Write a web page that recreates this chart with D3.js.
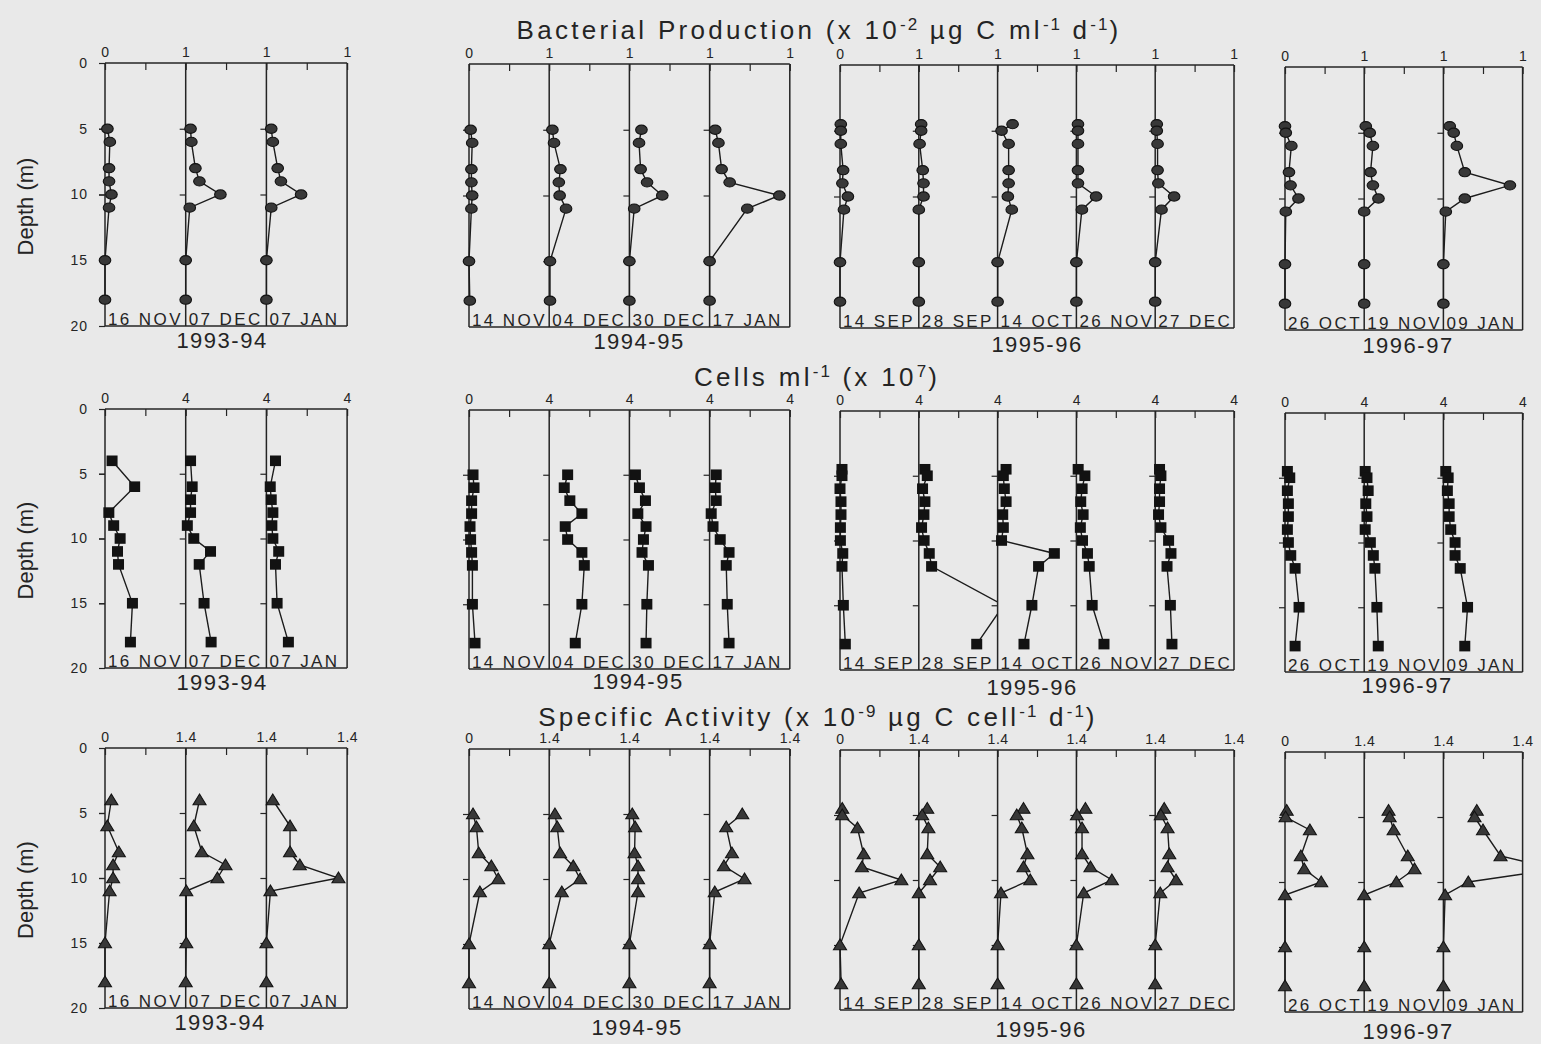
<!DOCTYPE html>
<html><head><meta charset="utf-8">
<script src="https://cdn.jsdelivr.net/npm/d3@7"></script>
<style>
html,body{margin:0;padding:0;background:#e9e9e9;}
svg{display:block;font-family:"Liberation Sans",Arial,Helvetica,sans-serif;}
</style></head><body>
<svg id="chart" width="1541" height="1044"></svg>
<script>
// ---------------- DATA ----------------
const years = ["1993-94", "1994-95", "1995-96", "1996-97"];
const depthTicks = [0, 5, 10, 15, 20];

const dates9394 = ["16 NOV", "07 DEC", "07 JAN"];
const dates9495 = ["14 NOV", "04 DEC", "30 DEC", "17 JAN"];
const dates9596 = ["14 SEP", "28 SEP", "14 OCT", "26 NOV", "27 DEC"];
const dates9697 = ["26 OCT", "19 NOV", "09 JAN"];

// Bacterial production (x 10^-2 ug C ml-1 d-1), axis max 1
const bpDepth9394 = [5, 6, 8, 9, 10, 11, 15, 18];
const bp9394 = [
  [0.03, 0.06, 0.05, 0.05, 0.08, 0.05, 0.00, 0.00],
  [0.06, 0.07, 0.12, 0.17, 0.43, 0.05, 0.00, 0.00],
  [0.06, 0.08, 0.14, 0.18, 0.43, 0.06, 0.00, 0.00]
];
const bpDepth9495 = [5, 6, 8, 9, 10, 11, 15, 18];
const bp9495 = [
  [0.02, 0.04, 0.03, 0.03, 0.04, 0.03, 0.00, 0.01],
  [0.04, 0.06, 0.14, 0.12, 0.13, 0.21, 0.01, 0.01],
  [0.15, 0.12, 0.14, 0.22, 0.41, 0.06, 0.00, 0.00],
  [0.07, 0.11, 0.15, 0.25, 0.87, 0.47, 0.00, 0.00]
];
const bpDepth9596 = [4.5, 5, 6, 8, 9, 10, 11, 15, 18];
const bp9596 = [
  [0.01, 0.01, 0.01, 0.04, 0.03, 0.10, 0.05, 0.00, 0.00],
  [0.03, 0.03, 0.01, 0.05, 0.06, 0.06, 0.00, 0.00, 0.00],
  [0.19, 0.05, 0.14, 0.14, 0.14, 0.13, 0.18, 0.00, 0.00],
  [0.02, 0.02, 0.02, 0.02, 0.02, 0.25, 0.07, 0.00, 0.00],
  [0.02, 0.02, 0.03, 0.03, 0.04, 0.24, 0.08, 0.00, 0.00]
];
const bpDepth9697 = [4.5, 5, 6, 8, 9, 10, 11, 15, 18];
const bp9697 = [
  [0.00, 0.01, 0.08, 0.05, 0.07, 0.17, 0.01, 0.00, 0.00],
  [0.02, 0.07, 0.11, 0.08, 0.11, 0.18, 0.00, 0.00, 0.00],
  [0.08, 0.13, 0.17, 0.27, 0.84, 0.27, 0.03, 0.00, 0.00]
];

// Cells ml-1 (x 10^7), axis max 4
const cellDepth9394 = [4, 6, 7, 8, 9, 10, 11, 12, 15, 18];
const cell9394 = [
  [0.35, 1.47, null, 0.19, 0.43, 0.75, 0.62, 0.67, 1.36, 1.26],
  [0.24, 0.32, 0.24, 0.24, 0.08, 0.40, 1.23, 0.67, 0.91, 1.26],
  [0.45, 0.19, 0.24, 0.32, 0.27, 0.32, 0.61, 0.45, 0.53, 1.09]
];
const cellDepth9495 = [5, 6, 7, 8, 9, 10, 11, 12, 15, 18];
const cell9495 = [
  [0.20, 0.25, 0.13, 0.13, 0.05, 0.08, 0.13, 0.17, 0.17, 0.30],
  [0.92, 0.75, 1.03, 1.63, 0.80, 0.92, 1.63, 1.75, 1.63, 1.30],
  [0.30, 0.50, 0.80, 0.42, 0.83, 0.70, 0.63, 0.95, 0.87, 0.83],
  [0.33, 0.28, 0.33, 0.08, 0.17, 0.53, 0.97, 0.83, 0.88, 0.97]
];
const cellDepth9596 = [4.5, 5, 6, 7, 8, 9, 10, 11, 12, 15, 18];
const cell9596 = [
  [0.10, 0.10, 0.00, 0.05, 0.05, 0.02, 0.02, 0.14, 0.10, 0.17, 0.27],
  [0.31, 0.43, 0.19, 0.31, 0.26, 0.14, 0.27, 0.53, 0.65, 4.30, 2.94],
  [0.43, 0.29, 0.34, 0.43, 0.26, 0.29, 0.20, 2.88, 2.08, 1.74, 1.34],
  [0.09, 0.43, 0.29, 0.22, 0.34, 0.20, 0.31, 0.56, 0.65, 0.80, 1.40],
  [0.22, 0.29, 0.22, 0.22, 0.17, 0.29, 0.68, 0.80, 0.60, 0.77, 0.85]
];
const cellDepth9697 = [4.5, 5, 6, 7, 8, 9, 10, 11, 12, 15, 18];
const cell9697 = [
  [0.12, 0.24, 0.12, 0.17, 0.17, 0.12, 0.17, 0.29, 0.51, 0.71, 0.51],
  [0.05, 0.14, 0.20, 0.08, 0.14, 0.05, 0.31, 0.46, 0.54, 0.64, 0.71],
  [0.12, 0.24, 0.20, 0.29, 0.29, 0.37, 0.59, 0.59, 0.85, 1.22, 1.08]
];

// Specific activity (x 10^-9 ug C cell-1 d-1), axis max 1.4
const saDepth9394 = [4, 6, 8, 9, 10, 11, 15, 18];
const sa9394 = [
  [0.11, 0.04, 0.24, 0.14, 0.14, 0.08, 0.00, 0.00],
  [0.24, 0.14, 0.28, 0.69, 0.55, 0.01, 0.01, 0.00],
  [0.11, 0.41, 0.41, 0.58, 1.25, 0.07, 0.00, 0.00]
];
const saDepth9495 = [5, 6, 8, 9, 10, 11, 15, 18];
const sa9495 = [
  [0.07, 0.13, 0.17, 0.39, 0.51, 0.19, 0.00, 0.00],
  [0.10, 0.14, 0.19, 0.42, 0.54, 0.22, 0.00, 0.00],
  [0.05, 0.10, 0.09, 0.15, 0.15, 0.15, 0.00, 0.00],
  [0.57, 0.29, 0.39, 0.25, 0.61, 0.09, 0.00, 0.00]
];
const saDepth9596 = [4.5, 5, 6, 8, 9, 10, 11, 15, 18];
const sa9596 = [
  [0.04, 0.04, 0.31, 0.42, 0.39, 1.09, 0.34, 0.00, 0.02],
  [0.15, 0.06, 0.17, 0.15, 0.38, 0.20, 0.00, 0.00, 0.00],
  [0.46, 0.34, 0.43, 0.53, 0.46, 0.58, 0.06, 0.00, 0.00],
  [0.16, 0.01, 0.10, 0.10, 0.25, 0.63, 0.13, 0.00, 0.00],
  [0.16, 0.10, 0.22, 0.25, 0.22, 0.37, 0.09, 0.00, 0.00]
];
const saDepth9697 = [4.5, 5, 6, 8, 9, 10, 11, 15, 18];
const sa9697 = [
  [0.03, 0.01, 0.44, 0.28, 0.34, 0.64, 0.00, 0.00, 0.00],
  [0.43, 0.45, 0.52, 0.77, 0.89, 0.57, 0.00, 0.00, 0.00],
  [0.59, 0.55, 0.70, 1.01, 2.00, 0.44, 0.03, 0.00, 0.00]
];

const xMax = [1, 4, 1.4];
const xMaxLabels = ["1", "4", "1.4"];
const markerTypes = ["circle", "square", "triangle"];

// ---------------- LAYOUT ----------------
const W = 1541, H = 1044;
const ink = "#242424";
const groupLeft = [105, 469, 840, 1285];
const panelW = [80.7, 80.2, 78.8, 79.2];
const groupDy = [0, 1, 2, 4];
const rowTop = [63, 409, 748];
const rowH = [263, 259, 260];
const yearX = [[222, 639, 1037, 1408], [222, 638, 1032, 1407], [220, 637, 1041, 1408]];
const yearY = [[348, 349, 352, 353], [690, 689, 695, 693], [1030, 1035, 1037, 1039]];

const rows = [
  [
    {depth: bpDepth9394, vals: bp9394, dates: dates9394},
    {depth: bpDepth9495, vals: bp9495, dates: dates9495},
    {depth: bpDepth9596, vals: bp9596, dates: dates9596},
    {depth: bpDepth9697, vals: bp9697, dates: dates9697}
  ],
  [
    {depth: cellDepth9394, vals: cell9394, dates: dates9394},
    {depth: cellDepth9495, vals: cell9495, dates: dates9495},
    {depth: cellDepth9596, vals: cell9596, dates: dates9596},
    {depth: cellDepth9697, vals: cell9697, dates: dates9697}
  ],
  [
    {depth: saDepth9394, vals: sa9394, dates: dates9394},
    {depth: saDepth9495, vals: sa9495, dates: dates9495},
    {depth: saDepth9596, vals: sa9596, dates: dates9596},
    {depth: saDepth9697, vals: sa9697, dates: dates9697}
  ]
];

const svg = d3.select("#chart");
svg.append("rect").attr("width", W).attr("height", H).attr("fill", "#e9e9e9");
const defs = svg.append("defs");

// ---------------- TITLES ----------------
function title(x, y, parts) {
  const t = svg.append("text").attr("x", x).attr("y", y)
    .attr("text-anchor", "middle").attr("fill", ink)
    .style("font-size", "26px").style("letter-spacing", "3.3px");
  let shift = 0;
  parts.forEach(p => {
    const target = p.sup ? -9 : 0;
    const ts = t.append("tspan").attr("dy", target - shift).text(p.t);
    if (p.sup) ts.style("font-size", "17px").style("letter-spacing", "2px");
    shift = target;
  });
}
title(819, 39, [{t: "Bacterial Production (x 10"}, {t: "-2", sup: 1}, {t: " \u00B5g C ml"}, {t: "-1", sup: 1}, {t: " d"}, {t: "-1", sup: 1}, {t: ")"}]);
title(817, 386, [{t: "Cells ml"}, {t: "-1", sup: 1}, {t: " (x 10"}, {t: "7", sup: 1}, {t: ")"}]);
title(818, 726, [{t: "Specific Activity (x 10"}, {t: "-9", sup: 1}, {t: " \u00B5g C cell"}, {t: "-1", sup: 1}, {t: " d"}, {t: "-1", sup: 1}, {t: ")"}]);

// ---------------- MARKERS ----------------
function drawMarker(g, type, x, y) {
  if (type === "circle") {
    g.append("ellipse").attr("cx", x).attr("cy", y).attr("rx", 5.8).attr("ry", 4.6)
      .attr("fill", "#383838").attr("stroke", "#121212").attr("stroke-width", 1.1);
  } else if (type === "square") {
    g.append("rect").attr("x", x - 5.5).attr("y", y - 5.3).attr("width", 11).attr("height", 10.6)
      .attr("fill", "#121212");
  } else {
    g.append("path").attr("d", `M${x},${y - 6}L${x + 6.5},${y + 4.8}L${x - 6.5},${y + 4.8}Z`)
      .attr("fill", "#383838").attr("stroke", "#121212").attr("stroke-width", 1.1);
  }
}

let clipId = 0;
rows.forEach((groups, ri) => {
  const max = xMax[ri];
  groups.forEach((grp, gi) => {
    const top = rowTop[ri] + groupDy[gi];
    const bottom = top + rowH[ri];
    const left = groupLeft[gi];
    const pw = panelW[gi];
    const n = grp.vals.length;
    const right = left + n * pw;
    const y = d3.scaleLinear().domain([0, 20]).range([top, bottom]);
    const g = svg.append("g");

    // depth axis labels for first group
    if (gi === 0) {
      const ax = d3.axisLeft(y).tickValues(depthTicks).tickSize(6).tickPadding(11).tickFormat(d3.format("d"));
      const a = g.append("g").attr("transform", `translate(${left},0)`).call(ax);
      a.select(".domain").remove();
      a.selectAll("line").attr("stroke", ink).attr("stroke-width", 1.2);
      a.selectAll("text").attr("fill", ink).style("font-size", "14px").style("letter-spacing", "1px")
        .style("font-family", '"Liberation Sans",Arial,sans-serif');
      g.append("text").attr("transform", `translate(33,${(top + bottom) / 2 + 12}) rotate(-90)`)
        .attr("text-anchor", "middle").attr("fill", ink).style("font-size", "22px")
        .text("Depth (m)");
    }

    grp.vals.forEach((vals, pi) => {
      const x0 = left + pi * pw;
      const x = d3.scaleLinear().domain([0, max]).range([x0, x0 + pw]);

      // left ticks
      const lt = d3.axisLeft(y).tickValues([5, 10, 15]).tickSize(6).tickFormat("");
      const la = g.append("g").attr("transform", `translate(${x0},0)`).call(lt);
      la.select(".domain").remove();
      la.selectAll("line").attr("stroke", ink).attr("stroke-width", 1.2);

      // top axis (ticks pointing down, labels above)
      const ta = d3.axisTop(x).tickValues(pi === 0 ? [0, max / 2, max] : [max / 2, max])
        .tickSizeInner(-7).tickSizeOuter(0).tickPadding(6)
        .tickFormat(d => d === 0 ? "0" : (d === max ? xMaxLabels[ri] : ""));
      const tg = g.append("g").attr("transform", `translate(0,${top})`).call(ta);
      tg.select(".domain").remove();
      tg.selectAll("line").attr("stroke", ink).attr("stroke-width", 1.2);
      tg.selectAll("text").filter(function () { return this.textContent === ""; }).remove();
      tg.selectAll("text").attr("fill", ink).style("font-size", "14px").style("letter-spacing", "0.5px")
        .style("font-family", '"Liberation Sans",Arial,sans-serif');

      // zero line
      g.append("line").attr("x1", x0).attr("x2", x0).attr("y1", top).attr("y2", bottom)
        .attr("stroke", ink).attr("stroke-width", 1.5);

      // clipped profile line
      const id = "clip" + (clipId++);
      defs.append("clipPath").attr("id", id).append("rect")
        .attr("x", x0 - 1).attr("y", top).attr("width", pw + 1).attr("height", bottom - top);
      const pts = grp.depth.map((d, k) => ({d, v: vals[k]})).filter(p => p.v !== null);
      const line = d3.line().x(p => x(p.v)).y(p => y(p.d));
      g.append("path").attr("d", line(pts)).attr("clip-path", `url(#${id})`)
        .attr("fill", "none").attr("stroke", "#1c1c1c").attr("stroke-width", 1.4);
      const mg = g.append("g");
      pts.filter(p => p.v <= max * 1.01).forEach(p => drawMarker(mg, markerTypes[ri], x(p.v), y(p.d)));

      // date label
      g.append("text").attr("x", x0 + 3).attr("y", bottom - 1).attr("fill", ink)
        .style("font-size", "17px").style("letter-spacing", "2.4px").text(grp.dates[pi]);
    });

    // frame: top, bottom, right
    g.append("line").attr("x1", left).attr("x2", right).attr("y1", top).attr("y2", top)
      .attr("stroke", ink).attr("stroke-width", 1.5);
    g.append("line").attr("x1", left).attr("x2", right).attr("y1", bottom).attr("y2", bottom)
      .attr("stroke", ink).attr("stroke-width", 1.5);
    g.append("line").attr("x1", right).attr("x2", right).attr("y1", top).attr("y2", bottom)
      .attr("stroke", ink).attr("stroke-width", 1.5);

    // year label
    g.append("text").attr("x", yearX[ri][gi]).attr("y", yearY[ri][gi]).attr("text-anchor", "middle")
      .attr("fill", ink).style("font-size", "22px").style("letter-spacing", "1.5px").text(years[gi]);
  });
});
</script>
</body></html>
